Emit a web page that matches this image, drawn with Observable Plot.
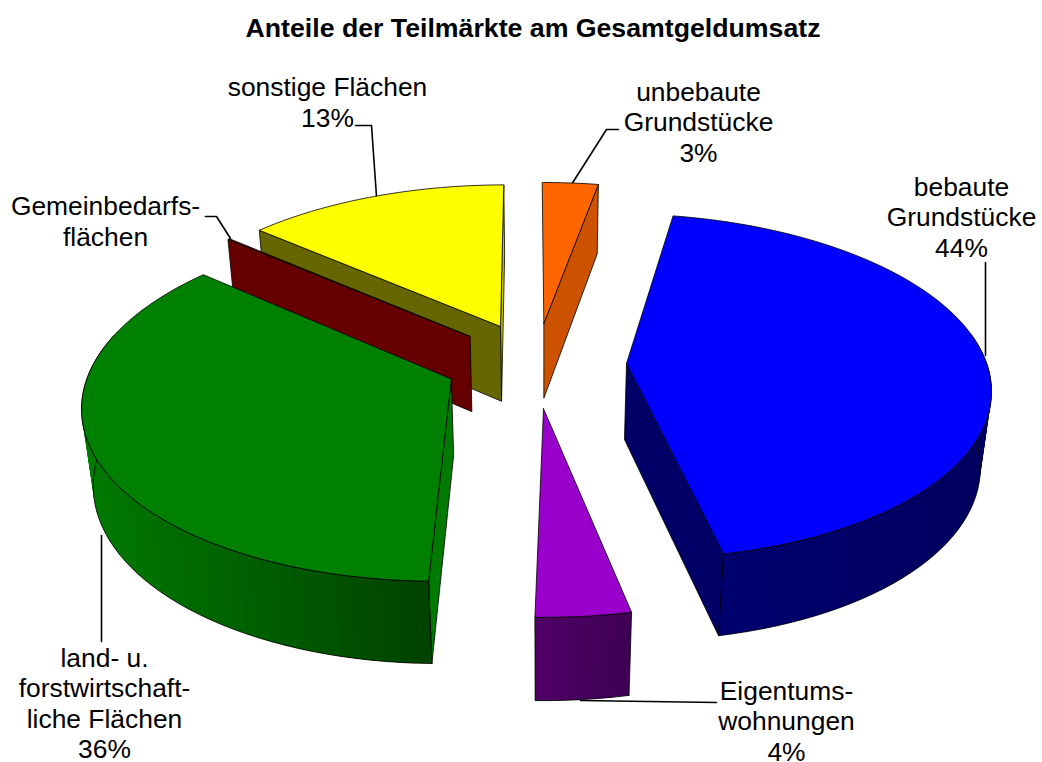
<!DOCTYPE html>
<html><head><meta charset="utf-8">
<script src="https://cdn.jsdelivr.net/npm/d3@7"></script>
<script src="https://cdn.jsdelivr.net/npm/@observablehq/plot@0.6"></script>
<style>
html,body{margin:0;padding:0;background:#fff;overflow:hidden;width:1042px;height:762px}
#title{height:52px;box-sizing:border-box;padding-top:14px;text-align:center;font:bold 26.7px "Liberation Sans",Arial,sans-serif;color:#000;line-height:28px;width:1066px;white-space:nowrap}
svg{display:block}
</style></head><body>
<div id="title">Anteile der Teilmärkte am Gesamtgeldumsatz</div>
<div id="chart"></div>
<script>
// Data, clockwise from north
const categories = ["unbebaute Grundstücke","bebaute Grundstücke","Eigentumswohnungen","land- u. forstwirtschaftliche Flächen","Gemeinbedarfsflächen","sonstige Flächen"];
const shares = [2.9, 43.9, 3.6, 35.9, 0.1, 13.6];
const labelTexts = ["unbebaute\nGrundstücke\n3%","bebaute\nGrundstücke\n44%","Eigentums-\nwohnungen\n4%","land- u.\nforstwirtschaft-\nliche Flächen\n36%","Gemeinbedarfs-\nflächen","sonstige Flächen\n13%"];
const topColors = ["#ff6600","#0000ff","#9900cc","#008000","#660000","#ffff00"];
const wallColors = ["#cc5200","#000066","#4d0066","#007a00","#660000","#666600"];
const bandFrom = [null,"#000070","#3f0055","#004400",null,null];
const bandTo = [null,"#00005e","#520068","#007a00",null,null];
// Exploded offset of each slice in disc units (east, north)
const offsetEast = [0.001,0.227,0,-0.249,-0.205,-0.121];
const offsetNorth = [0.2475,0.007,-0.2473,-0.082,0.1677,0.2289];
const radiusNorth = [0.987,0.987,0.98,0.995,0.987,0.987];
// Label layout
const labelX = [698,961,786,104,105,327];
const labelY = [121,216,720,702,220,101];
const leaderX = [[618,606,571],[985,985],[716,580],[101,101],[205,216,230],[355,371,376]];
const leaderY = [[129,129,184],[262,355],[702,700],[641,535],[216,216,238],[125,125,196]];

// Perspective view of the disc
const view = {cx:543,cy:364.2,a:366,b:172,c:0.134,d:0.025,g:78,ru:0.985,start:-0.3};
const project = (u,v,z)=>{const w=1+view.c*v+view.d*z;return {x:view.cx+view.a*u/w,y:view.cy+(-view.b*v+view.g*z)/w};};
const rad = d=>d*Math.PI/180;
let cum = view.start;
const slices = shares.map((s,i)=>{const a0=cum;cum+=s*3.6;return {i,a0,a1:cum,ou:offsetEast[i],ov:offsetNorth[i]};});
const rim = (sl,a,z)=>project(sl.ou+view.ru*Math.sin(rad(a)),sl.ov+radiusNorth[sl.i]*Math.cos(rad(a)),z);
const apex = (sl,z)=>project(sl.ou,sl.ov,z);
const arcAngles = (a0,a1,step)=>{const n=Math.max(1,Math.ceil((a1-a0)/step));return d3.range(n+1).map(k=>a0+(a1-a0)*k/n);};

const edge = {stroke:"#000",strokeWidth:0.8,strokeLinejoin:"round"};
const poly = (pts,fill,line=edge)=>Plot.line([...pts,pts[0]],{x:"x",y:"y",fill,...line});

function radialWall(sl,a,fill){return poly([apex(sl,0),rim(sl,a,0),rim(sl,a,1),apex(sl,1)],fill);}
function curvedWall(sl){
  const marks=[];
  const a0=Math.max(sl.a0,80), a1=Math.min(sl.a1,285);
  if(a1<=a0||!bandFrom[sl.i]) return marks;
  const angs=arcAngles(a0,a1,2.2);
  const col=d3.interpolateRgb(bandFrom[sl.i],bandTo[sl.i]);
  // each band reaches under the next one, so that no seam shows
  for(let k=0;k<angs.length-1;k++){
    const e=Math.min(k+2,angs.length-1);
    const q=[rim(sl,angs[k],0),rim(sl,angs[e],0),rim(sl,angs[e],1),rim(sl,angs[k],1)];
    const t=sl.i===3?Math.min(1,Math.max(0,(q[0].x-428)/(85-428))):(sl.i===1?(q[0].x-722)/(992-722):(q[0].x-534)/(630-534));
    const f=sl.i===2?col(1-t):col(t);
    marks.push(poly(q,f,{stroke:"none"}));
  }
  const outline=[...angs.map(a=>rim(sl,a,1)),...angs.slice().reverse().map(a=>rim(sl,a,0))];
  marks.push(Plot.line([...outline,outline[0]],{x:"x",y:"y",fill:"none",...edge}));
  return marks;
}
function topFace(sl){
  const pts=[apex(sl,0),...arcAngles(sl.a0,sl.a1,2).map(a=>rim(sl,a,0))];
  return poly(pts,topColors[sl.i]);
}
const s=slices;
const pieMarks=[
  // back slices first
  radialWall(s[5],s[5].a1,"#c8c800"),
  radialWall(s[5],s[5].a0,wallColors[5]),
  topFace(s[5]),
  radialWall(s[0],s[0].a1,wallColors[0]),
  topFace(s[0]),
  radialWall(s[4],s[4].a0,wallColors[4]),
  topFace(s[4]),
  radialWall(s[3],s[3].a0,wallColors[3]),
  ...curvedWall(s[3]),
  topFace(s[3]),
  ...curvedWall(s[2]),
  topFace(s[2]),
  radialWall(s[1],s[1].a1,wallColors[1]),
  ...curvedWall(s[1]),
  topFace(s[1])
];
const leaders=leaderX.map((xs,i)=>Plot.line(xs.map((x,k)=>({x,y:leaderY[i][k]})),{x:"x",y:"y",stroke:"#000",strokeWidth:1.6}));
const labels=Plot.text(labelTexts.map((t,i)=>({t,x:labelX[i],y:labelY[i]})),{x:"x",y:"y",text:"t",textAnchor:"middle",lineAnchor:"middle",lineHeight:1.155,fontSize:26.4,fontFamily:"Liberation Sans, Arial, sans-serif",fill:"#000"});

const chart=Plot.plot({
  width:1042,height:710,margin:0,
  style:{background:"#fff",overflow:"hidden"},
  x:{domain:[0,1042],range:[0,1042],axis:null},
  y:{domain:[52,762],range:[0,710],axis:null},
  marks:[...leaders,...pieMarks,labels]
});
document.getElementById("chart").append(chart);
</script>
</body></html>
